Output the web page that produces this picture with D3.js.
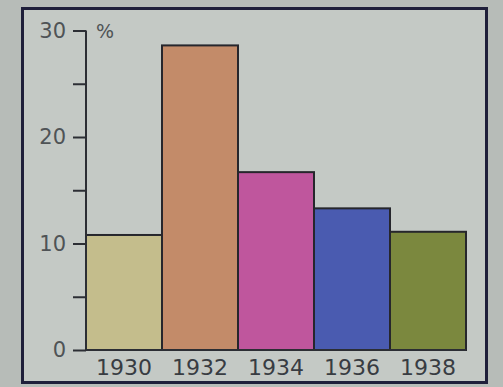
<!DOCTYPE html>
<html>
<head>
<meta charset="utf-8">
<script src="https://cdn.jsdelivr.net/npm/d3@7"></script>
<style>
  html, body { margin: 0; padding: 0; background: #b7bcb8; }
  svg { display: block; }
</style>
</head>
<body>
<svg id="chart" width="503" height="387"></svg>
<script>
// Share of each year, in percent
const years = ["1930", "1932", "1934", "1936", "1938"];
const values = [10.8, 28.6, 16.7, 13.3, 11.1];
const barColors = ["#c4bd8c", "#c38b69", "#bf569d", "#4a5bb0", "#7b883e"];
const majorTicks = [0, 10, 20, 30];
const minorTicks = [5, 15, 25];
const unitLabel = "%";

const svg = d3.select("#chart");

// panel with dark frame
svg.append("rect")
  .attr("x", 22.5).attr("y", 8.5)
  .attr("width", 464).attr("height", 374)
  .attr("fill", "#c4c9c5")
  .attr("stroke", "#1f1f3a")
  .attr("stroke-width", 3);

const x = d3.scaleBand().domain(years).range([86, 466]).padding(0);
const y = d3.scaleLinear().domain([0, 30]).range([350, 30.5]);

// bars
svg.append("g").selectAll("rect")
  .data(years)
  .join("rect")
  .attr("x", d => x(d))
  .attr("y", (d, i) => y(values[i]))
  .attr("width", x.bandwidth())
  .attr("height", (d, i) => y(0) - y(values[i]))
  .attr("fill", (d, i) => barColors[i])
  .attr("stroke", "#26262c")
  .attr("stroke-width", 2);

// y axis: major ticks labelled, minor ticks unlabelled
const axisColor = "#2c2e34";
const yAxis = d3.axisLeft(y).tickValues(majorTicks).tickSize(13).tickPadding(7)
  .tickFormat(d3.format("d"));
const gy = svg.append("g").attr("transform", "translate(86,0)").call(yAxis);
gy.select(".domain").remove();
gy.selectAll(".tick line").attr("stroke", axisColor).attr("stroke-width", 2);
gy.selectAll(".tick text")
  .attr("fill", "#4f5356")
  .style("font-family", "'DejaVu Sans', sans-serif")
  .style("font-size", "21px");

const gm = svg.append("g").attr("transform", "translate(86,0)")
  .call(d3.axisLeft(y).tickValues(minorTicks).tickSize(13).tickFormat(""));
gm.select(".domain").remove();
gm.selectAll(".tick line").attr("stroke", axisColor).attr("stroke-width", 2);

// vertical axis line
svg.append("line")
  .attr("x1", 86).attr("x2", 86)
  .attr("y1", y(30)).attr("y2", y(0))
  .attr("stroke", axisColor).attr("stroke-width", 2);

// baseline under the bars
svg.append("line")
  .attr("x1", 86).attr("x2", 466)
  .attr("y1", y(0)).attr("y2", y(0))
  .attr("stroke", axisColor).attr("stroke-width", 2);

// x axis labels
const gx = svg.append("g").attr("transform", `translate(0,${y(0)})`)
  .call(d3.axisBottom(x).tickSize(0).tickPadding(9));
gx.select(".domain").remove();
gx.selectAll(".tick text")
  .attr("fill", "#383c42")
  .style("font-family", "'DejaVu Sans', sans-serif")
  .style("font-size", "22px");

// unit label
svg.append("text")
  .attr("x", 96).attr("y", 38)
  .attr("fill", "#4f5356")
  .style("font-family", "'DejaVu Sans', sans-serif")
  .style("font-size", "19px")
  .text(unitLabel);
</script>
</body>
</html>
